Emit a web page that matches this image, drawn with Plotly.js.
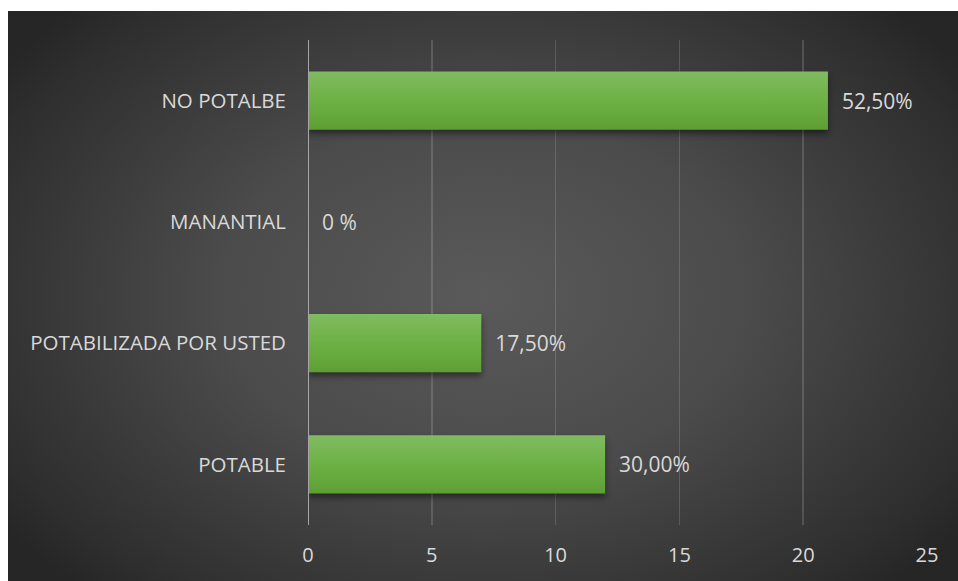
<!DOCTYPE html>
<html>
<head>
<meta charset="utf-8">
<script src="https://cdn.plot.ly/plotly-3.0.1.min.js"></script>
<style>
  html, body { margin:0; padding:0; background:#ffffff; }
  #wrap { position:relative; width:958px; height:581px; overflow:hidden; }
  #bg { position:absolute; left:8px; top:11px; right:0; bottom:0;
        background: radial-gradient(ellipse 62% 70% at 50% 50%, #5a5a5a 0%, #4b4b4b 45%, #2e2e2e 90%, #262626 100%); }
  #chart { position:absolute; left:0; top:0; width:958px; height:581px; }
  #chart .bars .point path { fill: url(#barGrad) !important; filter: drop-shadow(0px 4px 3px rgba(0,0,0,0.45)); }
</style>
</head>
<body>
<div id="wrap"><div id="bg"></div><div id="chart"></div></div>
<script>
const categories = ["POTABLE", "POTABILIZADA POR USTED", "MANANTIAL", "NO POTALBE"];
const counts = [12, 7, 0, 21];
const valueLabels = ["30,00%", "17,50%", "0 %", "52,50%"];
const xTicks = [0, 5, 10, 15, 20, 25];

const fontFam = "'Open Sans', 'Noto Sans', sans-serif";

const trace = {
  type: "bar",
  orientation: "h",
  y: categories,
  x: counts,
  text: valueLabels,
  texttemplate: "\u00a0\u00a0%{text}",
  textposition: "outside",
  cliponaxis: false,
  textfont: { family: fontFam, size: 21, color: "#d9d9d9" },
  marker: { color: "#6eb046", line: { width: 0 } },
  hoverinfo: "none"
};

const layout = {
  width: 958, height: 581,
  margin: { l: 308, r: 31, t: 40, b: 56 },
  paper_bgcolor: "rgba(0,0,0,0)",
  plot_bgcolor: "rgba(0,0,0,0)",
  showlegend: false,
  bargap: 0.52,
  font: { family: fontFam, color: "#d9d9d9", size: 20 },
  xaxis: {
    range: [0, 25],
    tickvals: xTicks,
    ticktext: xTicks.map(String),
    showgrid: true,
    gridcolor: "rgba(255,255,255,0.15)",
    gridwidth: 1.5,
    zeroline: false,
    showline: false,
    ticks: "",
    ticklabelstandoff: 16,
    tickfont: { family: fontFam, size: 20, color: "#d9d9d9" },
    fixedrange: true
  },
  yaxis: {
    type: "category",
    categoryorder: "array",
    categoryarray: categories,
    showgrid: false,
    zeroline: false,
    showline: false,
    ticks: "",
    ticklabelstandoff: 21,
    tickfont: { family: fontFam, size: 20.5, color: "#d9d9d9" },
    fixedrange: true
  },
  shapes: [{
    type: "line", xref: "x", yref: "paper",
    x0: 0, x1: 0, y0: 0, y1: 1,
    line: { color: "#a6a6a6", width: 2 }
  }]
};

Plotly.newPlot("chart", [trace], layout, { displayModeBar: false, staticPlot: true }).then(function (gd) {
  const svg = gd.querySelector("svg.main-svg");
  const ns = "http://www.w3.org/2000/svg";
  let defs = svg.querySelector("defs");
  if (!defs) { defs = document.createElementNS(ns, "defs"); svg.insertBefore(defs, svg.firstChild); }
  const g = document.createElementNS(ns, "linearGradient");
  g.setAttribute("id", "barGrad");
  g.setAttribute("x1", "0"); g.setAttribute("y1", "0");
  g.setAttribute("x2", "0"); g.setAttribute("y2", "1");
  [["0", "#80bb60"], ["0.5", "#6db145"], ["1", "#5e9f34"]].forEach(function (s) {
    const st = document.createElementNS(ns, "stop");
    st.setAttribute("offset", s[0]);
    st.setAttribute("stop-color", s[1]);
    g.appendChild(st);
  });
  defs.appendChild(g);
});
</script>
</body>
</html>
